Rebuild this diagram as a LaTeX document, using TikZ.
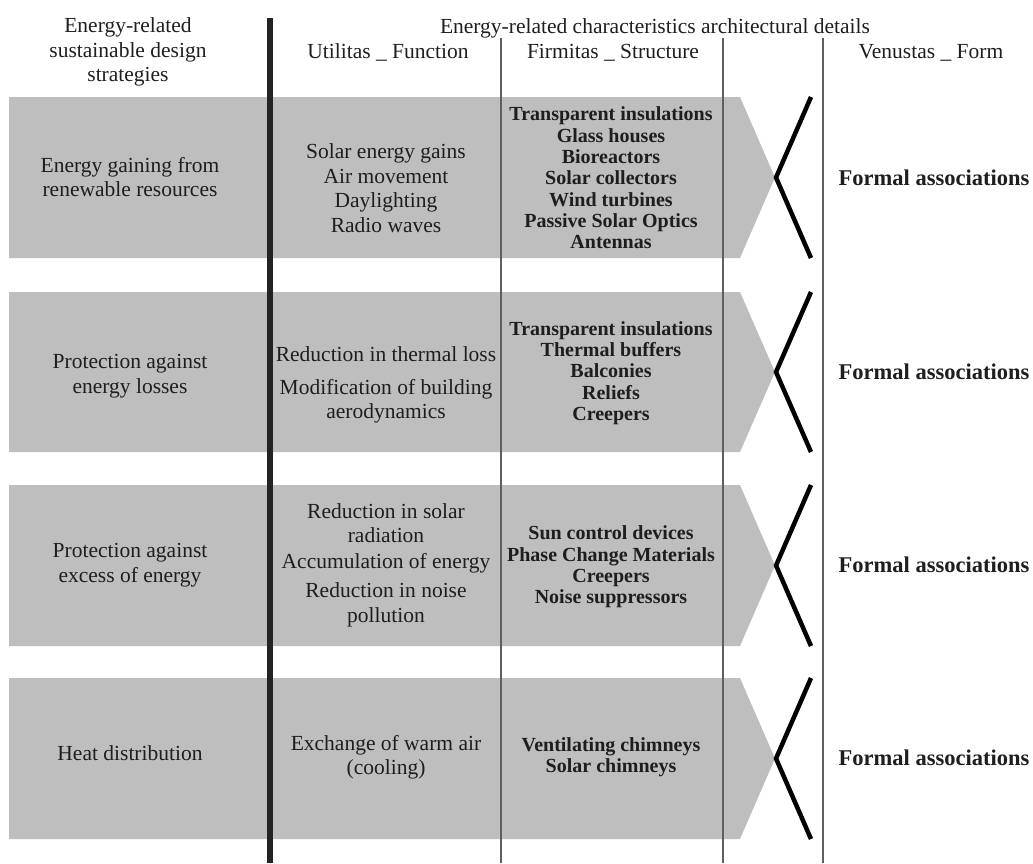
\documentclass[tikz,border=0pt]{standalone}
\usepackage{fontspec}
\setmainfont{Liberation Serif}
\definecolor{bandgray}{RGB}{190,190,190}
\definecolor{thinline}{RGB}{95,95,95}
\definecolor{thickline}{RGB}{35,35,35}
\definecolor{inktext}{RGB}{30,30,30}
\tikzset{
  bandshape/.style={fill=bandgray, draw=none},
  thinrule/.style={draw=thinline, line width=1.4pt},
  thickrule/.style={draw=thickline, line width=6pt},
  chevron/.style={draw=black, line width=4.5pt, line join=miter},
  normtxt/.style={font=\fontsize{21.5}{24.5}\selectfont, align=center, inner sep=0pt, text=inktext},
  strtxt/.style={font=\bfseries\fontsize{20}{21.3}\selectfont, align=center, inner sep=0pt, text=inktext},
  formtxt/.style={font=\bfseries\fontsize{22.5}{24}\selectfont, inner sep=0pt, text=inktext}
}
\begin{document}
\begin{tikzpicture}[x=1pt, y=-1pt]
\useasboundingbox (0,0) rectangle (1033,863);
% bands
\foreach \t/\b in {97/258, 292/452, 485/646, 678/839}{
  \pgfmathsetmacro{\m}{(\t+\b)/2}
  \fill[bandshape] (9,\t) -- (740,\t) -- (775,\m) -- (740,\b) -- (9,\b) -- cycle;
  \draw[chevron] (811,\t) -- (776,\m) -- (811,\b);
}
% column rules
\draw[thickrule] (270,18) -- (270,863);
\draw[thinrule] (501,38) -- (501,863);
\draw[thinrule] (723,38) -- (723,863);
\draw[thinrule] (823,38) -- (823,863);
% headers
\node[normtxt] (h1) at (128,52) {Energy-related\\sustainable design\\strategies};
\node[normtxt, anchor=base] (h2) at (655,33) {Energy-related characteristics architectural details};
\node[normtxt, anchor=base] (h3) at (388,58) {Utilitas \_ Function};
\node[normtxt, anchor=base] (h4) at (613,58) {Firmitas \_ Structure};
\node[normtxt, anchor=base] (h5) at (931,58) {Venustas \_ Form};
% band 1
\node[normtxt] (l1) at (130,177) {Energy gaining from\\renewable resources};
\node[normtxt] (f1) at (386,188) {Solar energy gains\\Air movement\\Daylighting\\Radio waves};
\node[strtxt] (s1) at (611,178) {Transparent insulations\\Glass houses\\Bioreactors\\Solar collectors\\Wind turbines\\Passive Solar Optics\\Antennas};
\node[formtxt] (fa1) at (934,178) {Formal associations};
% band 2
\node[normtxt] (l2) at (130,376) {Protection against\\energy losses};
\node[normtxt] (f2) at (386,385) {Reduction in thermal loss\\[8pt]Modification of building\\aerodynamics};
\node[strtxt] (s2) at (611,373) {Transparent insulations\\Thermal buffers\\Balconies\\Reliefs\\Creepers};
\node[formtxt] (fa2) at (934,372) {Formal associations};
% band 3
\node[normtxt] (l3) at (130,565) {Protection against\\excess of energy};
\node[normtxt] (f3) at (386,565) {Reduction in solar\\radiation\\[1pt]Accumulation of energy\\[5pt]Reduction in noise\\pollution};
\node[strtxt] (s3) at (611,567) {Sun control devices\\Phase Change Materials\\Creepers\\Noise suppressors};
\node[formtxt] (fa3) at (934,565) {Formal associations};
% band 4
\node[normtxt] (l4) at (130,753) {Heat distribution};
\node[normtxt] (f4) at (386,757) {Exchange of warm air\\(cooling)};
\node[strtxt] (s4) at (611,757) {Ventilating chimneys\\Solar chimneys};
\node[formtxt] (fa4) at (934,758) {Formal associations};
\end{tikzpicture}
\end{document}
